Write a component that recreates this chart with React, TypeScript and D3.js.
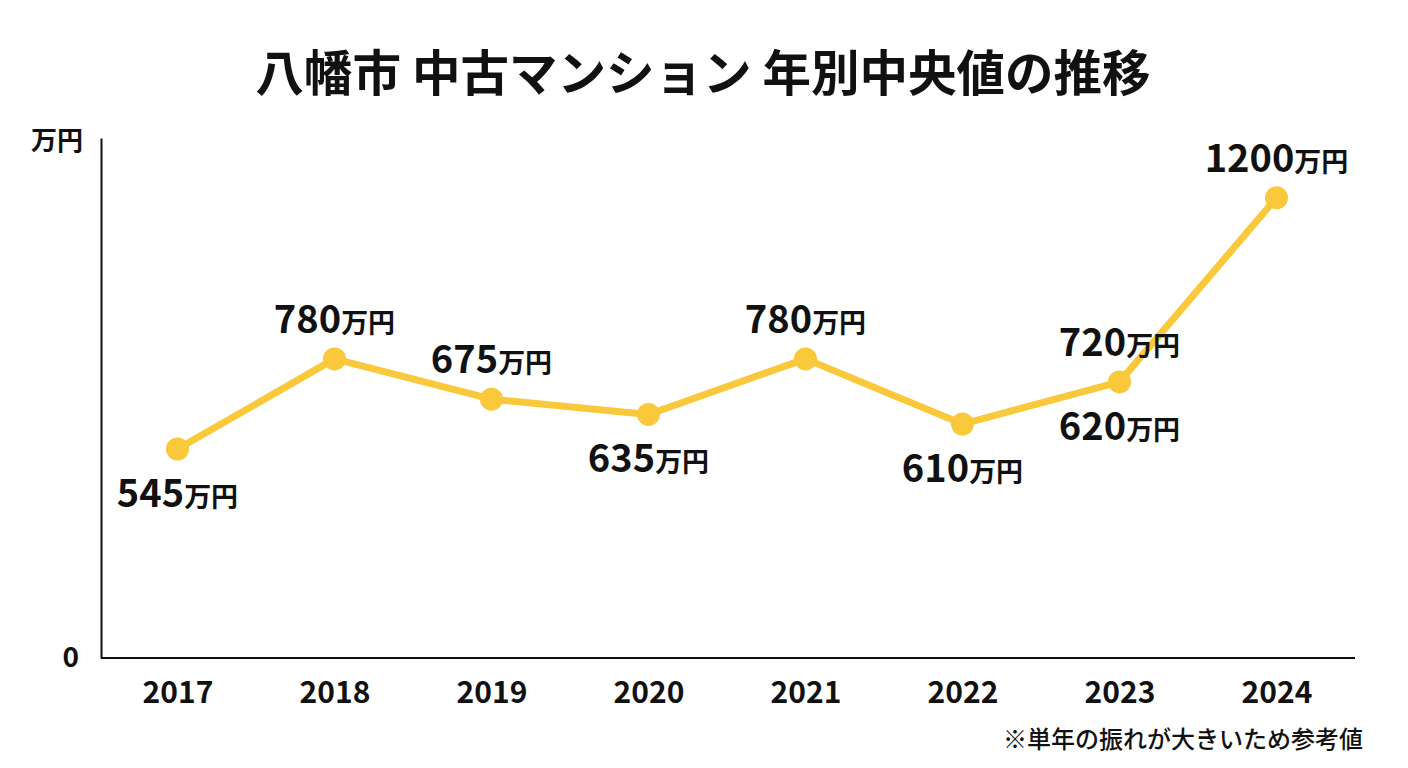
import { useEffect, useRef } from 'react'
import * as d3 from 'd3'

// Data
const years = ['2017', '2018', '2019', '2020', '2021', '2022', '2023', '2024']
const medianPrices = [545, 780, 675, 635, 780, 610, 720, 1200]
// labels as printed on the original (2023 carries two labels)
const labelsAbove: (number | null)[] = [null, 780, 675, null, 780, null, 720, 1200]
const labelsBelow: (number | null)[] = [545, null, null, 635, null, 610, 620, null]

const title = '八幡市 中古マンション 年別中央値の推移'
const unitLabel = '万円'
const footnote = '※単年の振れが大きいため参考値'

const WIDTH = 1408
const HEIGHT = 768
const FONT = '"Noto Sans CJK JP", "Noto Sans", sans-serif'
const LINE_COLOR = '#F9C93B'

const App = () => {
  const svgRef = useRef<SVGSVGElement>(null)

  useEffect(() => {
    if (!svgRef.current) return
    const svg = d3.select(svgRef.current)
    svg.selectAll('*').remove()

    const x = d3.scalePoint<string>().domain(years).range([99, 1355]).padding(0.5)
    const y = d3.scaleLinear().domain([0, 1356]).range([658, 138])

    // Title
    svg.append('text')
      .attr('x', 703)
      .attr('y', 91)
      .attr('text-anchor', 'middle')
      .attr('font-size', 48.5)
      .attr('font-weight', 700)
      .attr('fill', '#111')
      .text(title)

    // X axis
    const xAxis = svg.append('g')
      .attr('transform', `translate(0,${y(0)})`)
      .call(d3.axisBottom(x).tickSize(0).tickSizeOuter(0).tickPadding(24))
    xAxis.select('.domain').attr('stroke', '#111').attr('stroke-width', 2)
      .attr('d', `M101,0H1355`)
    xAxis.selectAll('text')
      .attr('font-family', FONT)
      .attr('font-size', 30)
      .attr('font-weight', 700)
      .attr('fill', '#111')
      .attr('dy', '0.71em')

    // Y axis
    const yAxis = svg.append('g')
      .attr('transform', 'translate(101,0)')
      .call(d3.axisLeft(y).tickValues([0]).tickSize(0).tickSizeOuter(0).tickPadding(22))
    yAxis.select('.domain').attr('stroke', '#111').attr('stroke-width', 2)
    yAxis.selectAll('text')
      .attr('font-family', FONT)
      .attr('font-size', 28)
      .attr('font-weight', 700)
      .attr('fill', '#111')

    svg.append('text')
      .attr('x', 57)
      .attr('y', 150)
      .attr('text-anchor', 'middle')
      .attr('font-size', 26)
      .attr('font-weight', 700)
      .attr('fill', '#111')
      .text(unitLabel)

    // Line
    const points = years.map((yr, i) => ({ yr, v: medianPrices[i] }))
    const line = d3.line<{ yr: string; v: number }>()
      .x(d => x(d.yr) || 0)
      .y(d => y(d.v))
    svg.append('path')
      .datum(points)
      .attr('d', line)
      .attr('fill', 'none')
      .attr('stroke', LINE_COLOR)
      .attr('stroke-width', 7)
      .attr('stroke-linejoin', 'round')

    svg.selectAll('circle.pt')
      .data(points)
      .enter()
      .append('circle')
      .attr('class', 'pt')
      .attr('cx', d => x(d.yr) || 0)
      .attr('cy', d => y(d.v))
      .attr('r', 11.5)
      .attr('fill', LINE_COLOR)

    // Value labels
    const addLabel = (i: number, v: number, dy: number) => {
      const t = svg.append('text')
        .attr('x', x(years[i]) || 0)
        .attr('y', y(medianPrices[i]) + dy)
        .attr('text-anchor', 'middle')
        .attr('font-weight', 700)
        .attr('fill', '#111')
      t.append('tspan').attr('font-size', 38).text(String(v))
      t.append('tspan').attr('font-size', 27).text('万円')
    }
    labelsAbove.forEach((v, i) => { if (v != null) addLabel(i, v, -26) })
    labelsBelow.forEach((v, i) => { if (v != null) addLabel(i, v, 58) })

    // Footnote
    svg.append('text')
      .attr('x', 1363)
      .attr('y', 748)
      .attr('text-anchor', 'end')
      .attr('font-size', 24)
      .attr('font-weight', 500)
      .attr('fill', '#111')
      .text(footnote)
  }, [])

  return (
    <svg
      ref={svgRef}
      width={WIDTH}
      height={HEIGHT}
      style={{ position: 'absolute', left: 0, top: 0, background: '#fff', fontFamily: FONT }}
    />
  )
}

export default App
